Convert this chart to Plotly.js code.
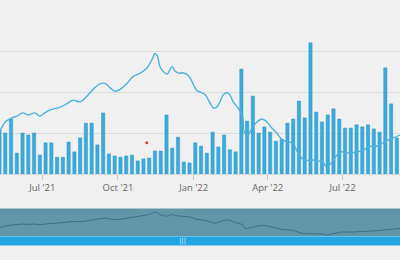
<!DOCTYPE html>
<html>
<head>
<meta charset="utf-8">
<script src="https://cdn.plot.ly/plotly-3.0.1.min.js"></script>
<style>html,body{margin:0;padding:0;background:#f0f0f0;}#chart{width:400px;height:260px;}</style>
</head>
<body>
<div id="chart"></div>
<script>
// Weekly bar series
const barDates = [
 '2021-05-10','2021-05-17','2021-05-24','2021-05-31','2021-06-07','2021-06-14','2021-06-21','2021-06-28',
 '2021-07-05','2021-07-12','2021-07-19','2021-07-26','2021-08-02','2021-08-09','2021-08-16','2021-08-23',
 '2021-08-30','2021-09-06','2021-09-13','2021-09-20','2021-09-27','2021-10-04','2021-10-11','2021-10-18',
 '2021-10-25','2021-11-01','2021-11-08','2021-11-15','2021-11-22','2021-11-29','2021-12-06','2021-12-13',
 '2021-12-20','2021-12-27','2022-01-03','2022-01-10','2022-01-17','2022-01-24','2022-01-31','2022-02-07',
 '2022-02-14','2022-02-21','2022-02-28','2022-03-07','2022-03-14','2022-03-21','2022-03-28','2022-04-04',
 '2022-04-11','2022-04-18','2022-04-25','2022-05-02','2022-05-09','2022-05-16','2022-05-23','2022-05-30',
 '2022-06-06','2022-06-13','2022-06-20','2022-06-27','2022-07-04','2022-07-11','2022-07-18','2022-07-25',
 '2022-08-01','2022-08-08','2022-08-15','2022-08-22','2022-08-29','2022-09-05'];
const barValues = [
 107,100,134,51,100,95,100,46,
 76,76,41,41,78,54,88,124,
 124,71,149,49,44,41,44,46,
 32,37,39,56,56,144,63,90,
 29,27,76,68,51,102,66,95,
 59,54,256,129,190,100,115,102,
 80,85,124,134,178,137,320,151,
 127,144,159,134,112,112,120,115,
 120,110,102,259,171,88];

// Smoothed line series
const lineDates = [
 '2021-05-10','2021-05-17','2021-05-25','2021-05-31','2021-06-07','2021-06-14','2021-06-22','2021-06-28',
 '2021-07-04','2021-07-10','2021-07-23','2021-08-01','2021-08-07','2021-08-16','2021-08-24','2021-09-01',
 '2021-09-09','2021-09-15','2021-09-21','2021-09-27','2021-10-04','2021-10-12','2021-10-19','2021-10-28',
 '2021-11-05','2021-11-11','2021-11-15','2021-11-18','2021-11-21','2021-11-25','2021-11-30','2021-12-03',
 '2021-12-06','2021-12-09','2021-12-14','2021-12-18','2021-12-23','2021-12-28','2022-01-01','2022-01-05',
 '2022-01-09','2022-01-15','2022-01-21','2022-01-25','2022-01-29','2022-02-02','2022-02-06','2022-02-11',
 '2022-02-14','2022-02-18','2022-02-24','2022-03-01','2022-03-04','2022-03-08','2022-03-13','2022-03-19',
 '2022-03-25','2022-03-31','2022-04-06','2022-04-12','2022-04-18','2022-04-25','2022-05-01','2022-05-05',
 '2022-05-10','2022-05-16','2022-05-25','2022-06-01','2022-06-07','2022-06-12','2022-06-18','2022-06-24',
 '2022-06-30','2022-07-10','2022-07-19','2022-07-27','2022-08-03','2022-08-08','2022-08-15','2022-08-23',
 '2022-08-31','2022-09-09'];
const lineValues = [
 102,127,137,141,149,144,149,141,
 149,156,163,173,180,176,189,207,
 220,221,211,202,207,221,237,246,
 258,278,294,287,262,250,244,254,
 262,252,246,247,244,233,217,203,
 200,193,173,161,163,176,193,198,
 193,176,161,144,100,95,112,127,
 134,127,112,100,85,78,76,63,
 44,34,34,32,29,17,29,46,
 54,51,54,59,68,66,71,80,
 88,95];

// Single flagged point
const flagDates = ['2021-11-05'];
const flagValues = [76];

const tickVals = ['2021-07-01','2021-10-01','2022-01-01','2022-04-01','2022-07-01'];
const tickText = ["Jul '21","Oct '21","Jan '22","Apr '22","Jul '22"];

const xRange = ['2021-05-10 14:00','2022-09-08 20:00'];
const H = 260;
const py = v => (H - v) / H;

const traces = [
 {type:'bar', x:barDates, y:barValues, marker:{color:'#3aabdb', line:{color:'#2b97c8', width:0.5}},
  xaxis:'x', yaxis:'y', hoverinfo:'x+y'},
 {type:'scatter', mode:'lines', x:lineDates, y:lineValues, line:{color:'#4fb2da', width:1.4, shape:'spline', smoothing:1},
  xaxis:'x', yaxis:'y'},
 {type:'scatter', mode:'markers', x:flagDates, y:flagValues, marker:{color:'#e8332a', size:3},
  xaxis:'x', yaxis:'y'},
 {type:'scatter', mode:'lines', x:lineDates, y:lineValues, line:{color:'#3a7284', width:1},
  xaxis:'x2', yaxis:'y2'}
];

const layout = {
 width:400, height:260,
 margin:{l:0, r:0, t:0, b:0},
 paper_bgcolor:'#f0f0f0', plot_bgcolor:'#f0f0f0',
 showlegend:false, bargap:0.44,
 font:{family:'Open Sans, sans-serif', size:10, color:'#666666'},
 xaxis:{type:'date', range:xRange, domain:[0,1], anchor:'y',
  tickmode:'array', tickvals:tickVals, ticktext:tickText,
  ticks:'outside', ticklen:5, tickcolor:'#c8c8c8', tickwidth:1,
  showgrid:false, showline:true, linecolor:'#d8d8d8', linewidth:1,
  tickfont:{size:9.5, color:'#666666'}, zeroline:false, fixedrange:true},
 yaxis:{range:[0,400], domain:[py(174), py(10)], dtick:100, showticklabels:false,
  gridcolor:'#dcdcdc', gridwidth:1, zeroline:false, showline:false, ticks:'', fixedrange:true},
 xaxis2:{type:'date', range:xRange, domain:[0,1], anchor:'y2', showticklabels:false,
  showgrid:false, zeroline:false, ticks:'', showline:false, fixedrange:true},
 yaxis2:{range:[5,330], domain:[py(236), py(209)], showticklabels:false, showgrid:false,
  zeroline:false, ticks:'', showline:false, fixedrange:true},
 shapes:[
  {type:'rect', xref:'paper', yref:'paper', x0:0, x1:1, y0:py(236), y1:py(208.5), layer:'below',
   fillcolor:'#6196a6', line:{width:0}},
  {type:'line', xref:'paper', yref:'paper', x0:0, x1:1, y0:py(208.5), y1:py(208.5), layer:'above',
   line:{color:'#a9c4cd', width:1}},
  {type:'rect', xref:'paper', yref:'paper', x0:0, x1:1, y0:py(245.5), y1:py(236), layer:'above',
   fillcolor:'#22a6e2', line:{width:0}},
  {type:'line', xref:'paper', yref:'paper', x0:0, x1:1, y0:py(236.5), y1:py(236.5), layer:'above',
   line:{color:'#5fc0ea', width:1}}
 ],
 annotations:[
  {xref:'paper', yref:'paper', x:182/400, y:py(241), text:'|||', showarrow:false,
   font:{size:7, color:'#cfe9f7', family:'DejaVu Sans'}, xanchor:'center', yanchor:'middle'}
 ]
};

Plotly.newPlot('chart', traces, layout, {displayModeBar:false, staticPlot:true});
</script>
</body>
</html>
